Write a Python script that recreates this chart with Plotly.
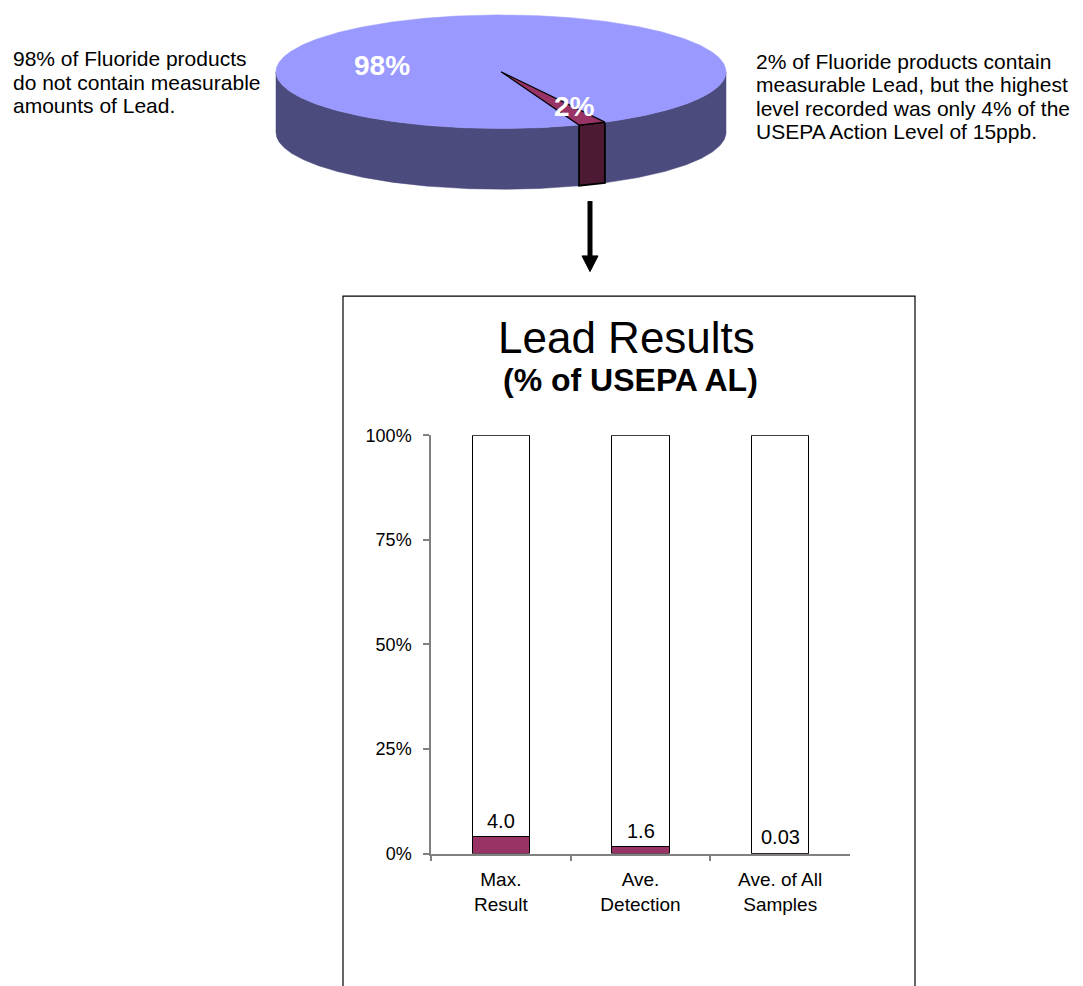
import numpy as np
import plotly.graph_objects as go

W, H = 1083, 986
FONT = "Liberation Sans, Arial, sans-serif"

# ---------------- data ----------------
pie_labels = ["No measurable Lead", "Measurable Lead"]
pie_values = [98, 2]
pie_text = ["98%", "2%"]

bar_categories = ["Max.<br>Result", "Ave.<br>Detection", "Ave. of All<br>Samples"]
lead_pct_of_al = [4.0, 1.6, 0.03]
lead_labels = ["4.0", "1.6", "0.03"]
y_ticks = [0, 25, 50, 75, 100]
y_tick_labels = ["0%", "25%", "50%", "75%", "100%"]

left_note = ["98% of Fluoride products", "do not contain measurable", "amounts of Lead."]
right_note = ["2% of Fluoride products contain", "measurable Lead, but the highest",
              "level recorded was only 4% of the", "USEPA Action Level of 15ppb."]

title_text = "Lead Results"
subtitle_text = "(% of USEPA AL)"

# ---------------- styles / layout constants ----------------
pie_top_colors = ["#9999FF", "#993366"]
pie_side_colors = ["#4B4B7D", "#4D1A33"]
pie_outline = [None, "black"]
CX, CY, RX, RY, DEPTH = 501, 63, 225, 58, 62
START_DEG = 69.7  # parametric angle where the first slice starts (clockwise on screen)


def px_x(p):
    return p / W


def px_y(p):
    return 1 - p / H


fig = go.Figure()

# ---------------- 3D pie (drawn on a pixel-mapped axis pair) ----------------
total = float(sum(pie_values))
angles = [START_DEG]
for v in pie_values:
    angles.append(angles[-1] + 360.0 * v / total)


def arc(a, b, dy=0.0, n=None):
    if n is None:
        n = max(4, int(abs(b - a) * 2))
    t = np.radians(np.linspace(a, b, n))
    return CX + RX * np.cos(t), CY + RY * np.sin(t) + dy


side_traces = []
top_traces = []
for i, v in enumerate(pie_values):
    a, b = angles[i], angles[i + 1]
    # visible front side: parametric angle within [0, 180] (mod 360)
    for m in range(-1, 3):
        lo = max(a, 360 * m)
        hi = min(b, 360 * m + 180)
        if hi > lo:
            xt, yt = arc(lo, hi)
            xb, yb = arc(hi, lo, DEPTH)
            xs = np.concatenate([xt, xb, xt[:1]])
            ys = np.concatenate([yt, yb, yt[:1]])
            side_traces.append(go.Scatter(
                x=xs, y=ys, mode="lines", fill="toself",
                fillcolor=pie_side_colors[i],
                line=dict(color=pie_outline[i] or pie_side_colors[i],
                          width=1.8 if pie_outline[i] else 0.5),
                xaxis="x2", yaxis="y2", hoverinfo="skip", showlegend=False))
    xa, ya = arc(a, b)
    xs = np.concatenate([[CX], xa, [CX]])
    ys = np.concatenate([[CY], ya, [CY]])
    top_traces.append(go.Scatter(
        x=xs, y=ys, mode="lines", fill="toself",
        fillcolor=pie_top_colors[i],
        line=dict(color=pie_outline[i] or pie_top_colors[i],
                  width=1.2 if pie_outline[i] else 0.5),
        xaxis="x2", yaxis="y2", hoverinfo="text", text=pie_labels[i],
        showlegend=False))

for tr in side_traces:
    fig.add_trace(tr)
for tr in top_traces:
    fig.add_trace(tr)

pie_label_pos = [(382, 57), (574, 99)]
for txt, (lx, ly) in zip(pie_text, pie_label_pos):
    fig.add_annotation(x=lx, y=ly, xref="x2", yref="y2", text=f"<b>{txt}</b>",
                       showarrow=False, font=dict(family=FONT, size=28, color="white"))

# ---------------- bar chart ----------------
remaining = [100 - v for v in lead_pct_of_al]
fig.add_trace(go.Bar(x=bar_categories, y=lead_pct_of_al, marker=dict(color="#993366",
              line=dict(color="black", width=1.2)), showlegend=False, hoverinfo="y"))
fig.add_trace(go.Bar(x=bar_categories, y=remaining, marker=dict(color="white",
              line=dict(color="black", width=1.2)), showlegend=False, hoverinfo="skip"))

for cat, v, lab in zip(bar_categories, lead_pct_of_al, lead_labels):
    fig.add_annotation(x=cat, y=v, xref="x", yref="y", text=lab, showarrow=False,
                       yanchor="bottom", yshift=3,
                       font=dict(family=FONT, size=20, color="black"))

# ---------------- texts ----------------
LINE = 23.8
for k, line in enumerate(left_note):
    fig.add_annotation(x=px_x(11), y=px_y(50 + k * LINE), xref="paper", yref="paper",
                       text=line, showarrow=False, xanchor="left", yanchor="middle",
                       font=dict(family=FONT, size=21, color="black"))
for k, line in enumerate(right_note):
    fig.add_annotation(x=px_x(754), y=px_y(52.5 + k * LINE), xref="paper", yref="paper",
                       text=line, showarrow=False, xanchor="left", yanchor="middle",
                       font=dict(family=FONT, size=21, color="black"))

fig.add_annotation(x=px_x(626), y=px_y(334), xref="paper", yref="paper", text=title_text,
                   showarrow=False, xanchor="center", yanchor="middle",
                   font=dict(family=FONT, size=44, color="black"))
fig.add_annotation(x=px_x(630), y=px_y(378), xref="paper", yref="paper",
                   text=f"<b>{subtitle_text}</b>", showarrow=False,
                   xanchor="center", yanchor="middle",
                   font=dict(family=FONT, size=32, color="black"))

# ---------------- shapes: frame and arrow ----------------
shapes = [
    dict(type="rect", xref="paper", yref="paper", x0=px_x(343), x1=px_x(915),
         y0=px_y(292), y1=px_y(1000), line=dict(color="black", width=1.2),
         fillcolor="rgba(0,0,0,0)", layer="below"),
    dict(type="line", xref="paper", yref="paper", x0=px_x(590), x1=px_x(590),
         y0=px_y(195), y1=px_y(253), line=dict(color="black", width=5)),
    dict(type="path", xref="paper", yref="paper",
         path=f"M {px_x(582)} {px_y(251)} L {px_x(598)} {px_y(251)} L {px_x(590)} {px_y(267)} Z",
         fillcolor="black", line=dict(color="black", width=1)),
]

fig.update_layout(
    width=W, height=H, autosize=False,
    margin=dict(l=0, r=0, t=0, b=0),
    paper_bgcolor="white", plot_bgcolor="rgba(0,0,0,0)",
    barmode="stack", bargap=0.59,
    font=dict(family=FONT, color="black"),
    shapes=shapes,
    xaxis=dict(domain=[431 / W, 850 / W], anchor="y", type="category",
               showline=True, linecolor="#808080", linewidth=1.5,
               ticks="outside", ticklen=6, tickcolor="#808080", tickwidth=1.5,
               tickson="boundaries", showgrid=False, zeroline=False,
               tickfont=dict(family=FONT, size=19, color="black"),
               ticklabelstandoff=8, fixedrange=True),
    yaxis=dict(domain=[(H - 861) / H, (H - 434) / H], anchor="x", range=[0, 100],
               tickvals=y_ticks, ticktext=y_tick_labels,
               showline=True, linecolor="#808080", linewidth=1.5,
               ticks="outside", ticklen=6, tickcolor="#808080", tickwidth=1.5,
               showgrid=False, zeroline=False,
               tickfont=dict(family=FONT, size=18, color="black"),
               ticklabelstandoff=8, fixedrange=True),
    xaxis2=dict(domain=[0, 1], anchor="y2", range=[0, W], visible=False, fixedrange=True),
    yaxis2=dict(domain=[1 - 200 / H, 1], anchor="x2", range=[200, 0], visible=False,
                fixedrange=True),
)

fig.write_html("out.html", config={"displayModeBar": False},
               post_script="document.body.style.margin='0';")
